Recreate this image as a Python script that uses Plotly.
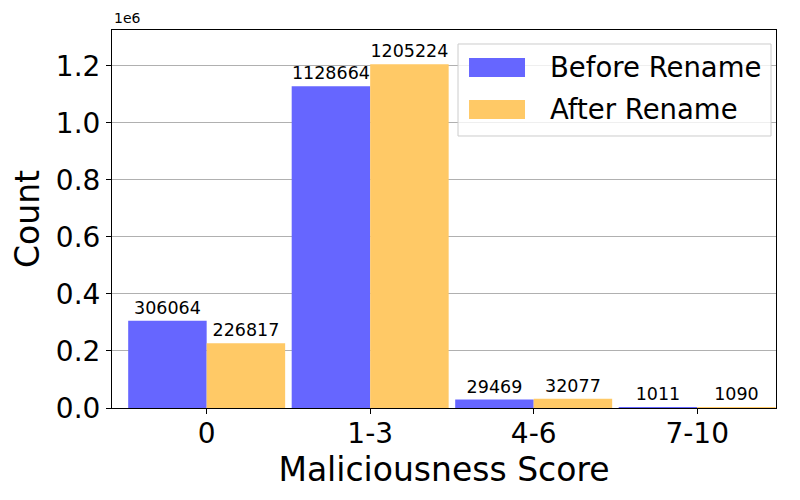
import plotly.graph_objects as go

categories = ["0", "1-3", "4-6", "7-10"]
before_rename = [306064, 1128664, 29469, 1011]
after_rename = [226817, 1205224, 32077, 1090]
series_names = ["Before Rename", "After Rename"]
series_colors = ["#6666ff", "#ffc966"]
y_tick_values = [0, 200000, 400000, 600000, 800000, 1000000, 1200000]
y_tick_labels = ["0.0", "0.2", "0.4", "0.6", "0.8", "1.0", "1.2"]

FONT = "DejaVu Sans"

fig = go.Figure()
for name, vals, col in zip(series_names, [before_rename, after_rename], series_colors):
    fig.add_trace(go.Bar(
        name=name, x=categories, y=vals,
        marker=dict(color=col, line=dict(width=0)),
        text=[str(v) for v in vals], textposition="outside",
        textfont=dict(size=17.5, color="black", family=FONT), cliponaxis=False,
        showlegend=False,
    ))

# Legend drawn in paper coordinates (matplotlib-style wide patches)
shapes = [dict(
    type="rect", xref="paper", yref="paper",
    x0=0.5211, x1=0.9925, y0=0.7196, y1=0.963,
    line=dict(color="#cccccc", width=1), fillcolor="rgba(255,255,255,0.8)", layer="above",
)]
annotations = [dict(
    text="1e6", xref="paper", yref="paper", x=0, y=1.005,
    xanchor="left", yanchor="bottom", showarrow=False,
    font=dict(size=14, family=FONT, color="black"),
)]
patch_rows = [(0.8757, 0.9259, 0.9021), (0.7646, 0.8148, 0.791)]
for (y0, y1, yt), name, col in zip(patch_rows, series_names, series_colors):
    shapes.append(dict(
        type="rect", xref="paper", yref="paper",
        x0=0.5377, x1=0.622, y0=y0, y1=y1,
        line=dict(width=0), fillcolor=col, layer="above",
    ))
    annotations.append(dict(
        text=name, xref="paper", yref="paper", x=0.6566, y=yt,
        xanchor="left", yanchor="middle", showarrow=False,
        font=dict(size=27.5, family=FONT, color="black"),
    ))

fig.update_layout(
    width=792, height=492,
    margin=dict(l=104, r=24, t=22, b=92),
    paper_bgcolor="white", plot_bgcolor="white",
    barmode="group", bargap=0.04, bargroupgap=0,
    font=dict(family=FONT, color="black"),
    showlegend=False,
    shapes=shapes,
    annotations=annotations,
)

fig.update_xaxes(
    type="category", range=[-0.579, 3.482],
    showline=True, linecolor="black", linewidth=1, mirror=True,
    ticks="outside", ticklen=5, tickcolor="black", ticklabelstandoff=-5,
    tickfont=dict(size=28, family=FONT, color="black"),
    title=dict(text="Maliciousness Score", font=dict(size=33, family=FONT, color="black"), standoff=0),
    showgrid=False,
)
fig.update_yaxes(
    range=[0, 1325746],
    tickvals=y_tick_values, ticktext=y_tick_labels,
    showline=True, linecolor="black", linewidth=1, mirror=True,
    ticks="outside", ticklen=5, tickcolor="black",
    tickfont=dict(size=28, family=FONT, color="black"),
    title=dict(text="Count", font=dict(size=33, family=FONT, color="black"), standoff=10),
    showgrid=True, gridcolor="#b0b0b0", gridwidth=1, zeroline=False,
)

fig.write_html("out.html")
